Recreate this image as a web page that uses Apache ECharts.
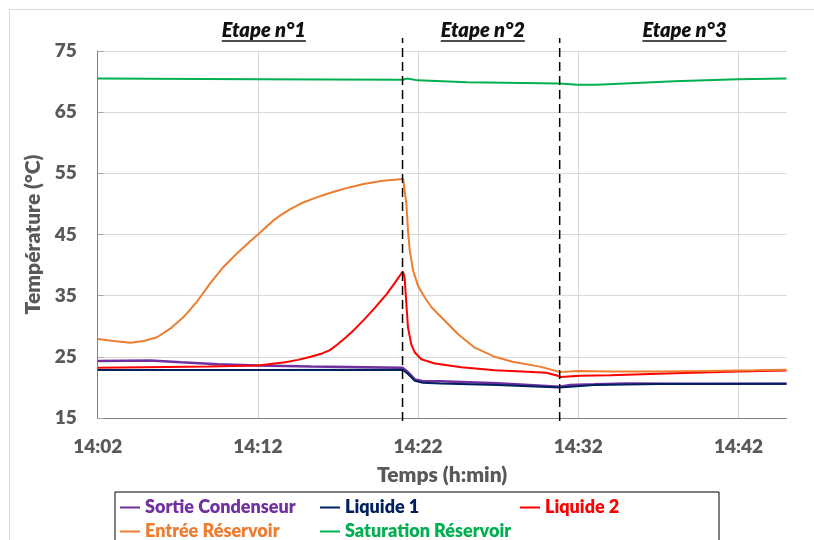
<!DOCTYPE html>
<html><head><meta charset="utf-8">
<script src="https://cdn.jsdelivr.net/npm/echarts@6/dist/echarts.min.js"></script>
<style>html,body{margin:0;padding:0;background:#fff}#c{width:814px;height:540px}</style>
</head><body><div id="c"></div>
<script>
// ---- data (x = minutes after 14:02) ----
const xTickLabels = ['14:02', '14:12', '14:22', '14:32', '14:42'];
const seriesNames = ['Sortie Condenseur', 'Liquide 1', 'Liquide 2', 'Entrée Réservoir', 'Saturation Réservoir'];
const seriesColors = ['#7030A0', '#002060', '#FF0000', '#ED7D31', '#00B050'];

const sortieT = [0, 3.3, 5.2, 7.5, 10, 13.3, 19.05, 19.37, 19.8, 20.3, 21.4, 25.0, 28.84, 29.5, 31, 33, 37, 43];
const sortieV = [24.3, 24.4, 24.1, 23.8, 23.6, 23.4, 23.2, 22.5, 21.3, 21.0, 21.0, 20.7, 20.1, 20.4, 20.5, 20.65, 20.6, 20.6];

const liq1T = [0, 10, 19.05, 19.37, 19.8, 20.3, 21.4, 25.0, 28.84, 31, 35, 43];
const liq1V = [22.85, 22.85, 22.9, 22.2, 21.1, 20.75, 20.65, 20.4, 20.0, 20.4, 20.55, 20.6];

const liq2T = [0, 3, 6.9, 10, 11.7, 12.5, 13.3, 13.9, 14.5, 15.0, 15.5, 16.0, 16.6, 17.3, 18.05, 18.55, 19.05, 19.16, 19.27, 19.37, 19.58, 19.8, 20.2, 21.05, 22.7, 24.79, 26.5, 28.0, 28.73, 28.9, 30.1, 32, 36, 40, 43];
const liq2V = [23.2, 23.3, 23.4, 23.6, 24.1, 24.5, 25.0, 25.45, 26.1, 27.1, 28.2, 29.4, 31.0, 33.0, 35.3, 37.1, 39.0, 38.0, 33.6, 29.8, 27.0, 25.7, 24.6, 23.9, 23.3, 22.8, 22.6, 22.4, 21.9, 21.7, 21.9, 22.0, 22.3, 22.6, 22.75];

const entreeT = [0, 1.0, 2.04, 2.87, 3.7, 4.53, 5.36, 6.19, 7.02, 7.85, 8.69, 9.52, 10.0, 10.5, 11.0, 11.5, 12.0, 12.7, 13.5, 14.2, 14.9, 15.7, 16.6, 17.8, 19.07, 19.16, 19.27, 19.37, 19.48, 19.69, 20.0, 20.42, 20.84, 21.67, 22.5, 23.54, 24.79, 25.9, 27.6, 28.6, 28.84, 30, 32, 35, 38, 41, 43];
const entreeV = [27.9, 27.6, 27.3, 27.6, 28.2, 29.6, 31.5, 34.0, 37.0, 39.7, 41.9, 43.9, 45.0, 46.2, 47.35, 48.3, 49.1, 50.1, 50.9, 51.55, 52.1, 52.7, 53.25, 53.8, 54.07, 53.9, 50.0, 45.6, 42.4, 39.1, 36.6, 34.7, 33.1, 30.9, 28.7, 26.5, 25.0, 24.2, 23.4, 22.7, 22.5, 22.7, 22.6, 22.6, 22.7, 22.8, 22.9];

const satT = [0, 10, 19.04, 19.33, 19.97, 23.05, 28.82, 29.95, 31.15, 36.0, 39.96, 43];
const satV = [70.5, 70.4, 70.3, 70.5, 70.2, 69.9, 69.7, 69.5, 69.5, 70.05, 70.4, 70.5];

const stageBounds = [19.03, 28.84];
const stageNames = ['Etape n°1', 'Etape n°2', 'Etape n°3'];
const stageLabelX = [10.37, 24.04, 36.63];
const gridMinutes = [10, 20, 30, 40];

// ---- build ----
const zip = (t, v) => t.map((x, i) => [x, v[i]]);
const seriesData = [zip(sortieT, sortieV), zip(liq1T, liq1V), zip(liq2T, liq2V), zip(entreeT, entreeV), zip(satT, satV)];

const FONT = 'Lato';
const W = 800;
const GRAY = '#595959';

const rich = {};
seriesNames.forEach((n, i) => {
  rich['c' + i] = { color: seriesColors[i], width: 170, lineHeight: 19, fontFamily: FONT, fontWeight: W, fontSize: 18 };
});

const series = [{
  type: 'line', xAxisIndex: 0, yAxisIndex: 0, data: [], silent: true,
  markLine: {
    silent: true, symbol: 'none', z: 1, animation: false,
    label: { show: false },
    lineStyle: { color: '#d9d9d9', type: 'solid', width: 1 },
    data: gridMinutes.map(v => ({ xAxis: v }))
  }
}];
seriesNames.forEach((n, i) => {
  series.push({
    name: n, type: 'line', xAxisIndex: 0, yAxisIndex: 0,
    data: seriesData[i], symbol: 'none', showSymbol: false, z: 3 + i,
    color: seriesColors[i],
    lineStyle: { color: seriesColors[i], width: i === 0 ? 2.5 : 2 },
    itemStyle: { color: seriesColors[i] }
  });
});
stageBounds.forEach(b => {
  series.push({
    type: 'line', xAxisIndex: 1, yAxisIndex: 1, silent: true, z: 10,
    data: [[b, 0], [b, 1]], symbol: 'none',
    lineStyle: { color: '#000', width: 1.5, type: [9, 5] }
  });
});

const option = {
  animation: false,
  textStyle: { fontFamily: FONT },
  color: seriesColors,
  grid: [
    { left: 97.7, right: 27.5, top: 51, bottom: 122 },
    { left: 97.7, right: 27.5, top: 38, bottom: 119 }
  ],
  xAxis: [{
    type: 'value', gridIndex: 0, min: 0, max: 43, interval: 10,
    axisLine: { show: true, lineStyle: { color: '#808080', width: 1 } },
    axisTick: { show: false },
    splitLine: { show: false },
    axisLabel: {
      margin: 19, color: GRAY, fontFamily: FONT, fontWeight: W, fontSize: 19,
      showMaxLabel: false,
      formatter: v => (v % 10 === 0 ? xTickLabels[v / 10] : '')
    },
    name: 'Temps (h:min)', nameLocation: 'middle', nameGap: 47,
    nameTextStyle: { color: GRAY, fontFamily: FONT, fontWeight: W, fontSize: 21 }
  }, {
    type: 'value', gridIndex: 1, min: 0, max: 43, show: false
  }],
  yAxis: [{
    type: 'value', gridIndex: 0, min: 15, max: 75, interval: 10,
    axisLine: { show: true, lineStyle: { color: '#808080', width: 1 } },
    axisTick: { show: true, inside: true, length: 6, lineStyle: { color: '#a6a6a6' } },
    splitLine: { show: true, lineStyle: { color: '#d9d9d9', width: 1 } },
    axisLabel: { margin: 21, color: GRAY, fontFamily: FONT, fontWeight: W, fontSize: 19 },
    name: 'Température (°C)', nameLocation: 'middle', nameGap: 47,
    nameTextStyle: { color: GRAY, fontFamily: FONT, fontWeight: W, fontSize: 21 }
  }, {
    type: 'value', gridIndex: 1, min: 0, max: 1, show: false
  }],
  legend: {
    left: 115, top: 492, orient: 'horizontal', width: 604,
    padding: [6, 4, 8, 5], itemGap: 5, itemWidth: 20, itemHeight: 2,
    icon: 'rect', borderColor: '#000', borderWidth: 1, selectedMode: false,
    data: seriesNames,
    formatter: n => '{c' + seriesNames.indexOf(n) + '|' + n + '}',
    textStyle: { fontFamily: FONT, fontWeight: W, fontSize: 18, lineHeight: 19, rich: rich }
  },
  series: series
};

const chart = echarts.init(document.getElementById('c'), null, { renderer: 'canvas' });
chart.setOption(option);

const ctx = document.createElement('canvas').getContext('2d');
const stageFont = 'italic 800 20px Lato';
ctx.font = stageFont;
const graphics = [{
  type: 'rect', z: 0, silent: true,
  shape: { x: 9.5, y: 9.5, width: 820, height: 560 },
  style: { fill: 'none', stroke: '#d9d9d9', lineWidth: 1 }
}];
stageNames.forEach((name, i) => {
  const cx = chart.convertToPixel({ xAxisIndex: 0 }, stageLabelX[i]);
  const w = ctx.measureText(name).width;
  graphics.push({
    type: 'text', silent: true, x: cx, y: 31,
    style: { text: name, font: stageFont, fill: '#111', align: 'center', textAlign: 'center', verticalAlign: 'middle', textVerticalAlign: 'middle' }
  });
  graphics.push({
    type: 'line', silent: true,
    shape: { x1: cx - w / 2, y1: 41, x2: cx + w / 2, y2: 41 },
    style: { stroke: '#111', lineWidth: 1.3 }
  });
});
chart.setOption({ graphic: graphics });
</script>
</body></html>
